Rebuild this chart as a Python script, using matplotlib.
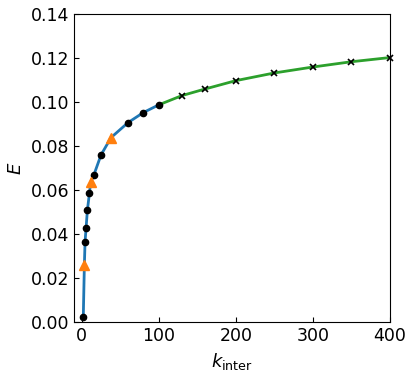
import numpy as np
import matplotlib.pyplot as plt

# blue branch (small k): all points along the line
k_blue = [2, 3.4, 4.3, 5.6, 7.3, 10, 11.6, 15.5, 25, 38, 60, 80, 100]
e_blue = [0.0023, 0.026, 0.0366, 0.0427, 0.0508, 0.0587, 0.0637, 0.0667, 0.076,
          0.0839, 0.0907, 0.0953, 0.0988]
# black dot markers
k_dot = [2, 4.3, 5.6, 7.3, 10, 15.5, 25, 60, 80, 100]
e_dot = [0.0023, 0.0366, 0.0427, 0.0508, 0.0587, 0.0667, 0.076, 0.0907, 0.0953, 0.0988]
# orange triangles
k_tri = [3.4, 11.6, 38]
e_tri = [0.026, 0.0637, 0.0839]
# green branch (large k)
k_green = [100, 130, 160, 200, 250, 300, 350, 400]
e_green = [0.0988, 0.103, 0.106, 0.1098, 0.1133, 0.116, 0.1184, 0.1203]
k_x = k_green[1:]
e_x = e_green[1:]

fig = plt.figure(figsize=(4.16, 3.75), dpi=100)
ax = fig.add_axes([0.178, 0.141, 0.759, 0.821])

ax.plot(k_blue, e_blue, color='#1f77b4', lw=2, zorder=1)
ax.plot(k_green, e_green, color='#2ca02c', lw=2, zorder=1)
ax.plot(k_dot, e_dot, 'o', color='black', ms=4.5, zorder=3, clip_on=False)
ax.plot(k_tri, e_tri, '^', color='#ff7f0e', ms=7, zorder=3)
ax.plot(k_x, e_x, 'x', color='black', ms=5, mew=1.2, zorder=3, clip_on=False)

ax.set_xlim(-10, 400)
ax.set_ylim(0, 0.14)
ax.set_xticks([0, 100, 200, 300, 400])
ax.set_yticks(np.arange(0, 0.141, 0.02))
ax.tick_params(direction='in', labelsize=12.5)
ax.set_xlabel(r'$k_{\mathrm{inter}}$', fontsize=13)
ax.set_ylabel(r'$E$', fontsize=13)

fig.savefig('out.png', dpi=100)
